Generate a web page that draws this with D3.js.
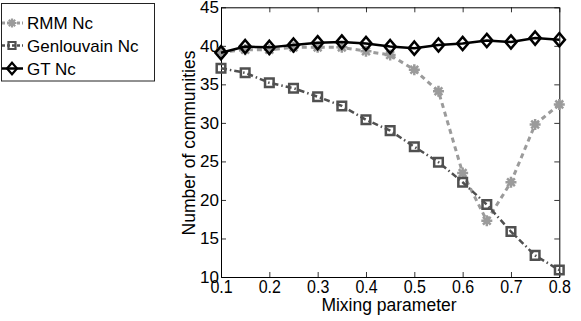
<!DOCTYPE html>
<html>
<head>
<meta charset="utf-8">
<script src="https://cdn.jsdelivr.net/npm/d3@7"></script>
<style>
body { margin: 0; background: #fff; }
svg { display: block; font-family: "Liberation Sans", Arial, sans-serif; }
</style>
</head>
<body>
<svg id="chart" width="581" height="321"></svg>
<script>
// values
var mixing = [0.1, 0.15, 0.2, 0.25, 0.3, 0.35, 0.4, 0.45, 0.5, 0.55, 0.6, 0.65, 0.7, 0.75, 0.8];
var rmm = [39.2, 39.5, 39.5, 39.8, 39.8, 39.8, 39.3, 38.8, 36.9, 34.1, 23.5, 17.3, 22.3, 29.8, 32.4];
var genlouvain = [37.1, 36.5, 35.2, 34.5, 33.4, 32.2, 30.4, 29.0, 26.9, 24.9, 22.3, 19.4, 15.9, 12.8, 10.9];
var gt = [39.1, 39.9, 39.8, 40.1, 40.4, 40.5, 40.3, 39.9, 39.7, 40.1, 40.3, 40.7, 40.5, 41.0, 40.8];
var xTicks = [0.1, 0.2, 0.3, 0.4, 0.5, 0.6, 0.7, 0.8];
var yTicks = [10, 15, 20, 25, 30, 35, 40, 45];
var seriesNames = ["RMM Nc", "Genlouvain Nc", "GT Nc"];

var svg = d3.select('#chart');

var x = d3.scaleLinear().domain([0.1, 0.8]).range([221, 559.3]);
var y = d3.scaleLinear().domain([10, 45]).range([277, 7.3]);

// marker shapes (matlab-ish)
function star(r){
    var a = r * 0.7071;
    return 'M'+(-r)+',0L'+r+',0M0,'+(-r)+'L0,'+r+
        'M'+(-a)+','+(-a)+'L'+a+','+a+'M'+(-a)+','+a+'L'+a+','+(-a);
}
function square(h){
    return 'M'+(-h)+','+(-h)+'L'+h+','+(-h)+'L'+h+','+h+'L'+(-h)+','+h+'Z';
}
function diamond(w, h){
    return 'M0,'+(-h)+'L'+w+',0L0,'+h+'L'+(-w)+',0Z';
}

var series = [
    {name: seriesNames[0], vals: rmm, color: '#9b9b9b', dash: '5,4', width: 3,
        marker: star(5.5), lmarker: star(4.5)},
    {name: seriesNames[1], vals: genlouvain, color: '#505050', dash: '6,3,1.5,3', width: 2.5,
        marker: square(4.3), lmarker: square(3.5)},
    {name: seriesNames[2], vals: gt, color: '#000', dash: null, width: 2.5,
        marker: diamond(5.6, 6.6), lmarker: diamond(5, 5.8)}
];

// axes box, ticks pointing in
var fr = svg.append('g');
fr.append('g').attr('transform', 'translate(0,277)')
    .call(d3.axisBottom(x).tickValues(xTicks).tickSizeInner(-5).tickSizeOuter(0).tickPadding(0).tickFormat(d3.format('.1f')))
    .call(function(g){
        g.selectAll('text').attr('font-size', 16).attr('fill', '#000')
            .attr('y', 2.6).attr('dy', '0.71em')
            .attr('transform', 'scale(1,1.16)');
    });
fr.append('g').attr('transform', 'translate(0,7.3)')
    .call(d3.axisTop(x).tickValues(xTicks).tickSizeInner(-5).tickSizeOuter(0).tickFormat(''));
fr.append('g').attr('transform', 'translate(221,0)')
    .call(d3.axisLeft(y).tickValues(yTicks).tickSizeInner(-5).tickSizeOuter(0).tickPadding(2))
    .call(function(g){
        g.selectAll('text').attr('font-size', 17).attr('fill', '#000');
    });
fr.append('g').attr('transform', 'translate(559.3,0)')
    .call(d3.axisRight(y).tickValues(yTicks).tickSizeInner(-5).tickSizeOuter(0).tickFormat(''));
fr.selectAll('.domain').attr('stroke', '#000').attr('stroke-width', 1);
fr.selectAll('.tick line').attr('stroke', '#000').attr('stroke-width', 0.8);

// lines and markers
var line = d3.line()
    .x(function(d, i){ return x(mixing[i]); })
    .y(function(d){ return y(d); });

series.forEach(function(s){
    svg.append('path')
        .attr('d', line(s.vals))
        .attr('fill', 'none')
        .attr('stroke', s.color)
        .attr('stroke-width', s.width)
        .attr('stroke-dasharray', s.dash);
    svg.selectAll(null)
        .data(s.vals)
        .enter()
        .append('path')
        .attr('transform', function(d, i){ return 'translate('+x(mixing[i])+','+y(d)+')'; })
        .attr('d', s.marker)
        .attr('fill', 'none')
        .attr('stroke', s.color)
        .attr('stroke-width', 2.5);
});

// axis labels
svg.append('text')
    .attr('x', 389).attr('y', 311)
    .attr('text-anchor', 'middle')
    .attr('font-size', 17.5)
    .text('Mixing parameter');
svg.append('text')
    .attr('transform', 'translate(195,143) rotate(-90)')
    .attr('text-anchor', 'middle')
    .attr('font-size', 17.5)
    .text('Number of communities');

// legend
var leg = svg.append('g');
leg.append('rect')
    .attr('x', 1.5).attr('y', 3.5).attr('width', 153).attr('height', 77.5)
    .attr('fill', '#fff').attr('stroke', '#222').attr('stroke-width', 1);
var legY = [23, 45.5, 68.5];
var items = leg.selectAll('g.item')
    .data(series)
    .enter()
    .append('g')
    .attr('transform', function(d, i){ return 'translate(0,'+legY[i]+')'; });
items.append('line')
    .attr('x1', 2).attr('x2', 23)
    .attr('stroke', function(d){ return d.color; })
    .attr('stroke-width', function(d){ return d.width; })
    .attr('stroke-dasharray', function(d){ return d.dash ? '3,2' : null; });
items.append('path')
    .attr('transform', 'translate(12,0)')
    .attr('d', function(d){ return d.lmarker; })
    .attr('fill', 'none')
    .attr('stroke', function(d){ return d.color; })
    .attr('stroke-width', 2.2);
items.append('text')
    .attr('x', 27).attr('y', 6.3)
    .attr('font-size', 17)
    .text(function(d){ return d.name; });
</script>
</body>
</html>
